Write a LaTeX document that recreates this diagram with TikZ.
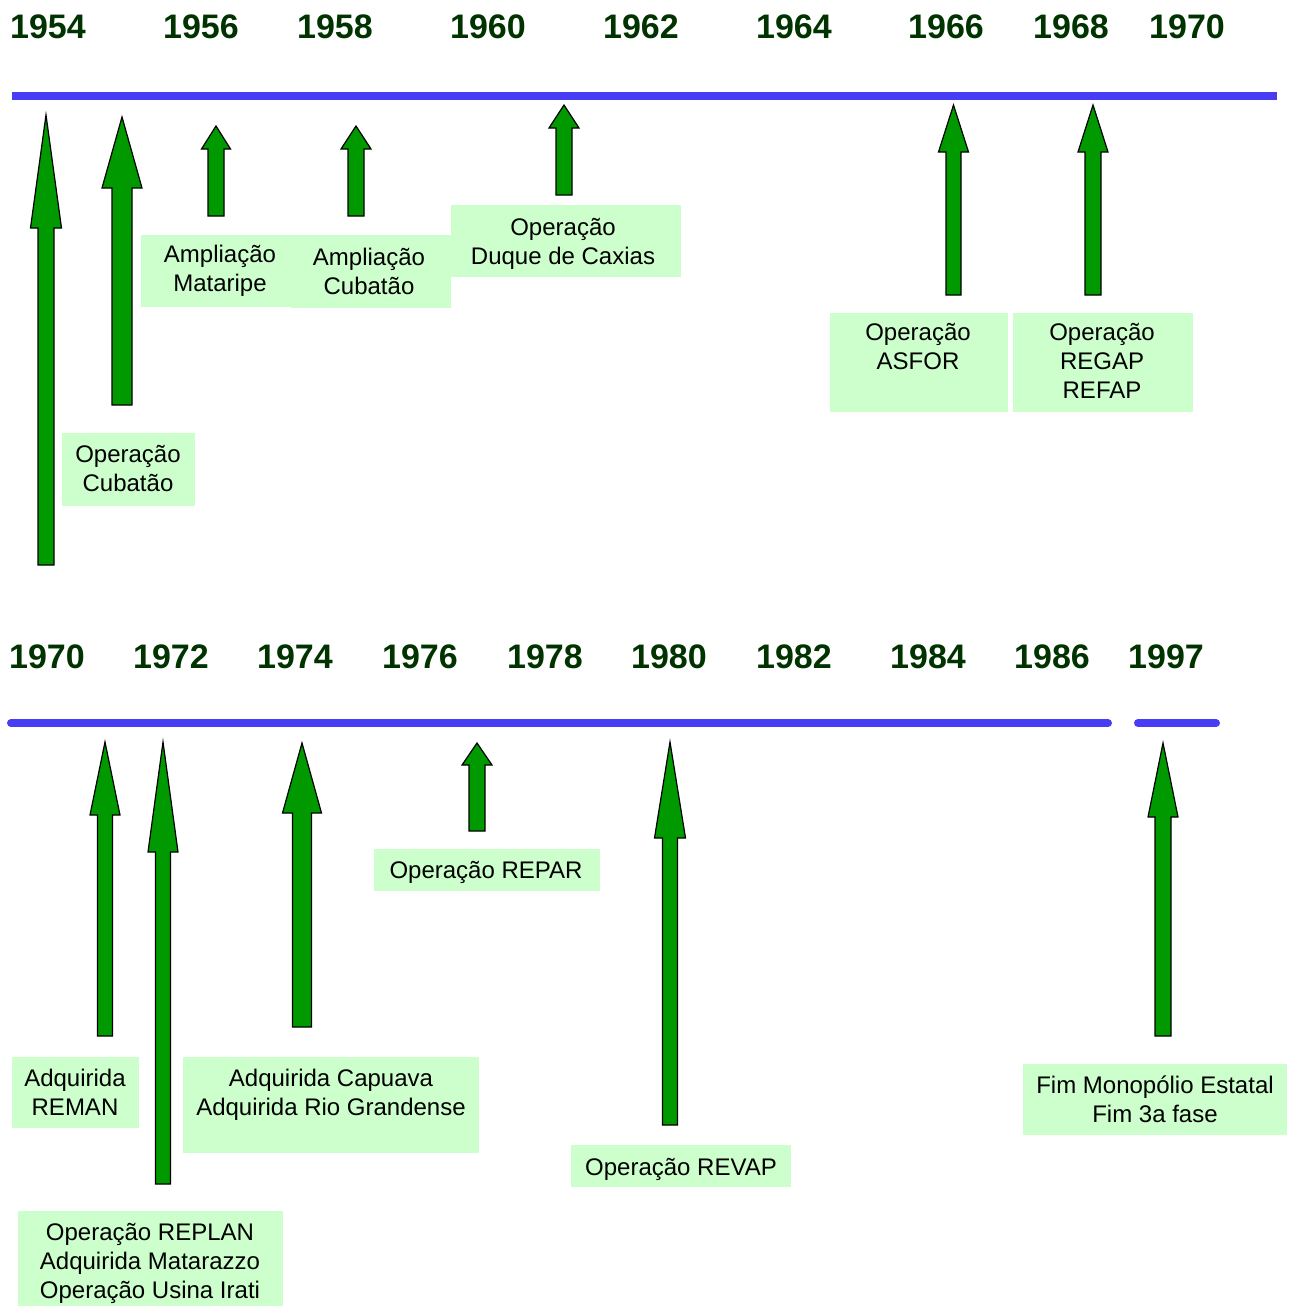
\documentclass[tikz,border=0pt]{standalone}
\usepackage{fontspec}
\setmainfont{Liberation Sans}
\definecolor{lineblue}{RGB}{72,60,245}
\definecolor{yeargreen}{RGB}{0,51,0}
\definecolor{arrgreen}{RGB}{0,153,0}
\definecolor{boxgreen}{RGB}{204,255,204}
\tikzset{
  yearlbl/.style={anchor=base, inner sep=0pt, text=yeargreen, font=\fontsize{34}{40}\selectfont\bfseries},
  txtlbl/.style={anchor=base, inner sep=0pt, align=center, font=\fontsize{24}{29}\selectfont},
  blockarr/.style={fill=arrgreen, draw=black, line width=1.2pt, line join=miter},
  tline/.style={draw=lineblue, line width=8pt},
}
% cx, tip, headbase, half head, half shaft, bottom
\newcommand\myuparrow[6]{%
  \draw[blockarr] ({#1-#5},#6) -- ({#1-#5},#3) -- ({#1-#4},#3) -- (#1,#2) -- ({#1+#4},#3) -- ({#1+#5},#3) -- ({#1+#5},#6) -- cycle;}
\begin{document}
\begin{tikzpicture}[x=1pt,y=-1pt]
\useasboundingbox (0,0) rectangle (1295,1306);
% ---------- top timeline ----------
\coordinate (tl1) at (12,96);
\coordinate (tl2) at (1277,96);
\draw[tline] (tl1) -- (tl2);
\foreach \yr/\xx in {1954/48,1956/201,1958/335,1960/488,1962/641,1964/794,1966/946,1968/1071,1970/1187}{
  \node[yearlbl] (top\yr) at (\xx,39) {\yr};
}
\myuparrow{46}{115}{228}{15.5}{8}{565}
\myuparrow{122}{117}{188}{20}{10}{405}
\myuparrow{216}{126}{149}{14.5}{8}{216}
\myuparrow{356}{126}{149}{15}{8}{216}
\myuparrow{564}{105}{128}{15}{8}{195}
\myuparrow{953.5}{105}{152}{15}{7.5}{295}
\myuparrow{1093}{105}{152}{15}{8}{295}
% top boxes
\fill[boxgreen] (62,433) rectangle (195,506);
\fill[boxgreen] (141,235) rectangle (291,307);
\fill[boxgreen] (291,235) rectangle (451,308);
\fill[boxgreen] (451,205) rectangle (681,277);
\fill[boxgreen] (830,313) rectangle (1008,412);
\fill[boxgreen] (1013,313) rectangle (1193,412);
\node[txtlbl] (opcub) at (128,491) {Operação\\Cubatão};
\node[txtlbl] (ampmat) at (220,291) {Ampliação\\Mataripe};
\node[txtlbl] (ampcub) at (369,294) {Ampliação\\Cubatão};
\node[txtlbl] (opduq) at (563,264) {Operação\\Duque de Caxias};
\node[txtlbl] (opasf) at (918,369) {Operação\\ASFOR};
\node[txtlbl] (opreg) at (1102,398) {Operação\\REGAP\\REFAP};
% ---------- bottom timeline ----------
\coordinate (bl1) at (11,723);
\coordinate (bl2) at (1108,723);
\coordinate (bl3) at (1138,723);
\coordinate (bl4) at (1216,723);
\draw[tline, line cap=round] (bl1) -- (bl2);
\draw[tline, line cap=round] (bl3) -- (bl4);
\foreach \yr/\xx in {1970/47,1972/171,1974/295,1976/420,1978/545,1980/669,1982/794,1984/928,1986/1052,1997/1166}{
  \node[yearlbl] (bot\yr) at (\xx,668) {\yr};
}
\myuparrow{105}{742}{815}{15}{7.5}{1036}
\myuparrow{163}{742}{852}{15}{7.5}{1184}
\myuparrow{302}{743}{813}{19.5}{9.5}{1027}
\myuparrow{477}{743}{765}{15}{8}{831}
\myuparrow{670}{742}{838}{15.5}{7.5}{1125}
\myuparrow{1163}{743}{817}{15}{8}{1036}
% bottom boxes
\fill[boxgreen] (12,1057) rectangle (139,1128);
\fill[boxgreen] (183,1057) rectangle (479,1153);
\fill[boxgreen] (18,1211) rectangle (283,1306);
\fill[boxgreen] (374,849) rectangle (600,891);
\fill[boxgreen] (571,1145) rectangle (791,1187);
\fill[boxgreen] (1023,1064) rectangle (1287,1135);
\node[txtlbl] (adqrem) at (75,1115) {Adquirida\\REMAN};
\node[txtlbl] (adqcap) at (331,1115) {Adquirida Capuava\\Adquirida Rio Grandense};
\node[txtlbl] (oprep) at (150,1298) {Operação REPLAN\\Adquirida Matarazzo\\Operação Usina Irati};
\node[txtlbl] (oprepar) at (486,878) {Operação REPAR};
\node[txtlbl] (oprevap) at (681,1175) {Operação REVAP};
\node[txtlbl] (fim) at (1155,1122) {Fim Monopólio Estatal\\Fim 3a fase};
\end{tikzpicture}
\end{document}
